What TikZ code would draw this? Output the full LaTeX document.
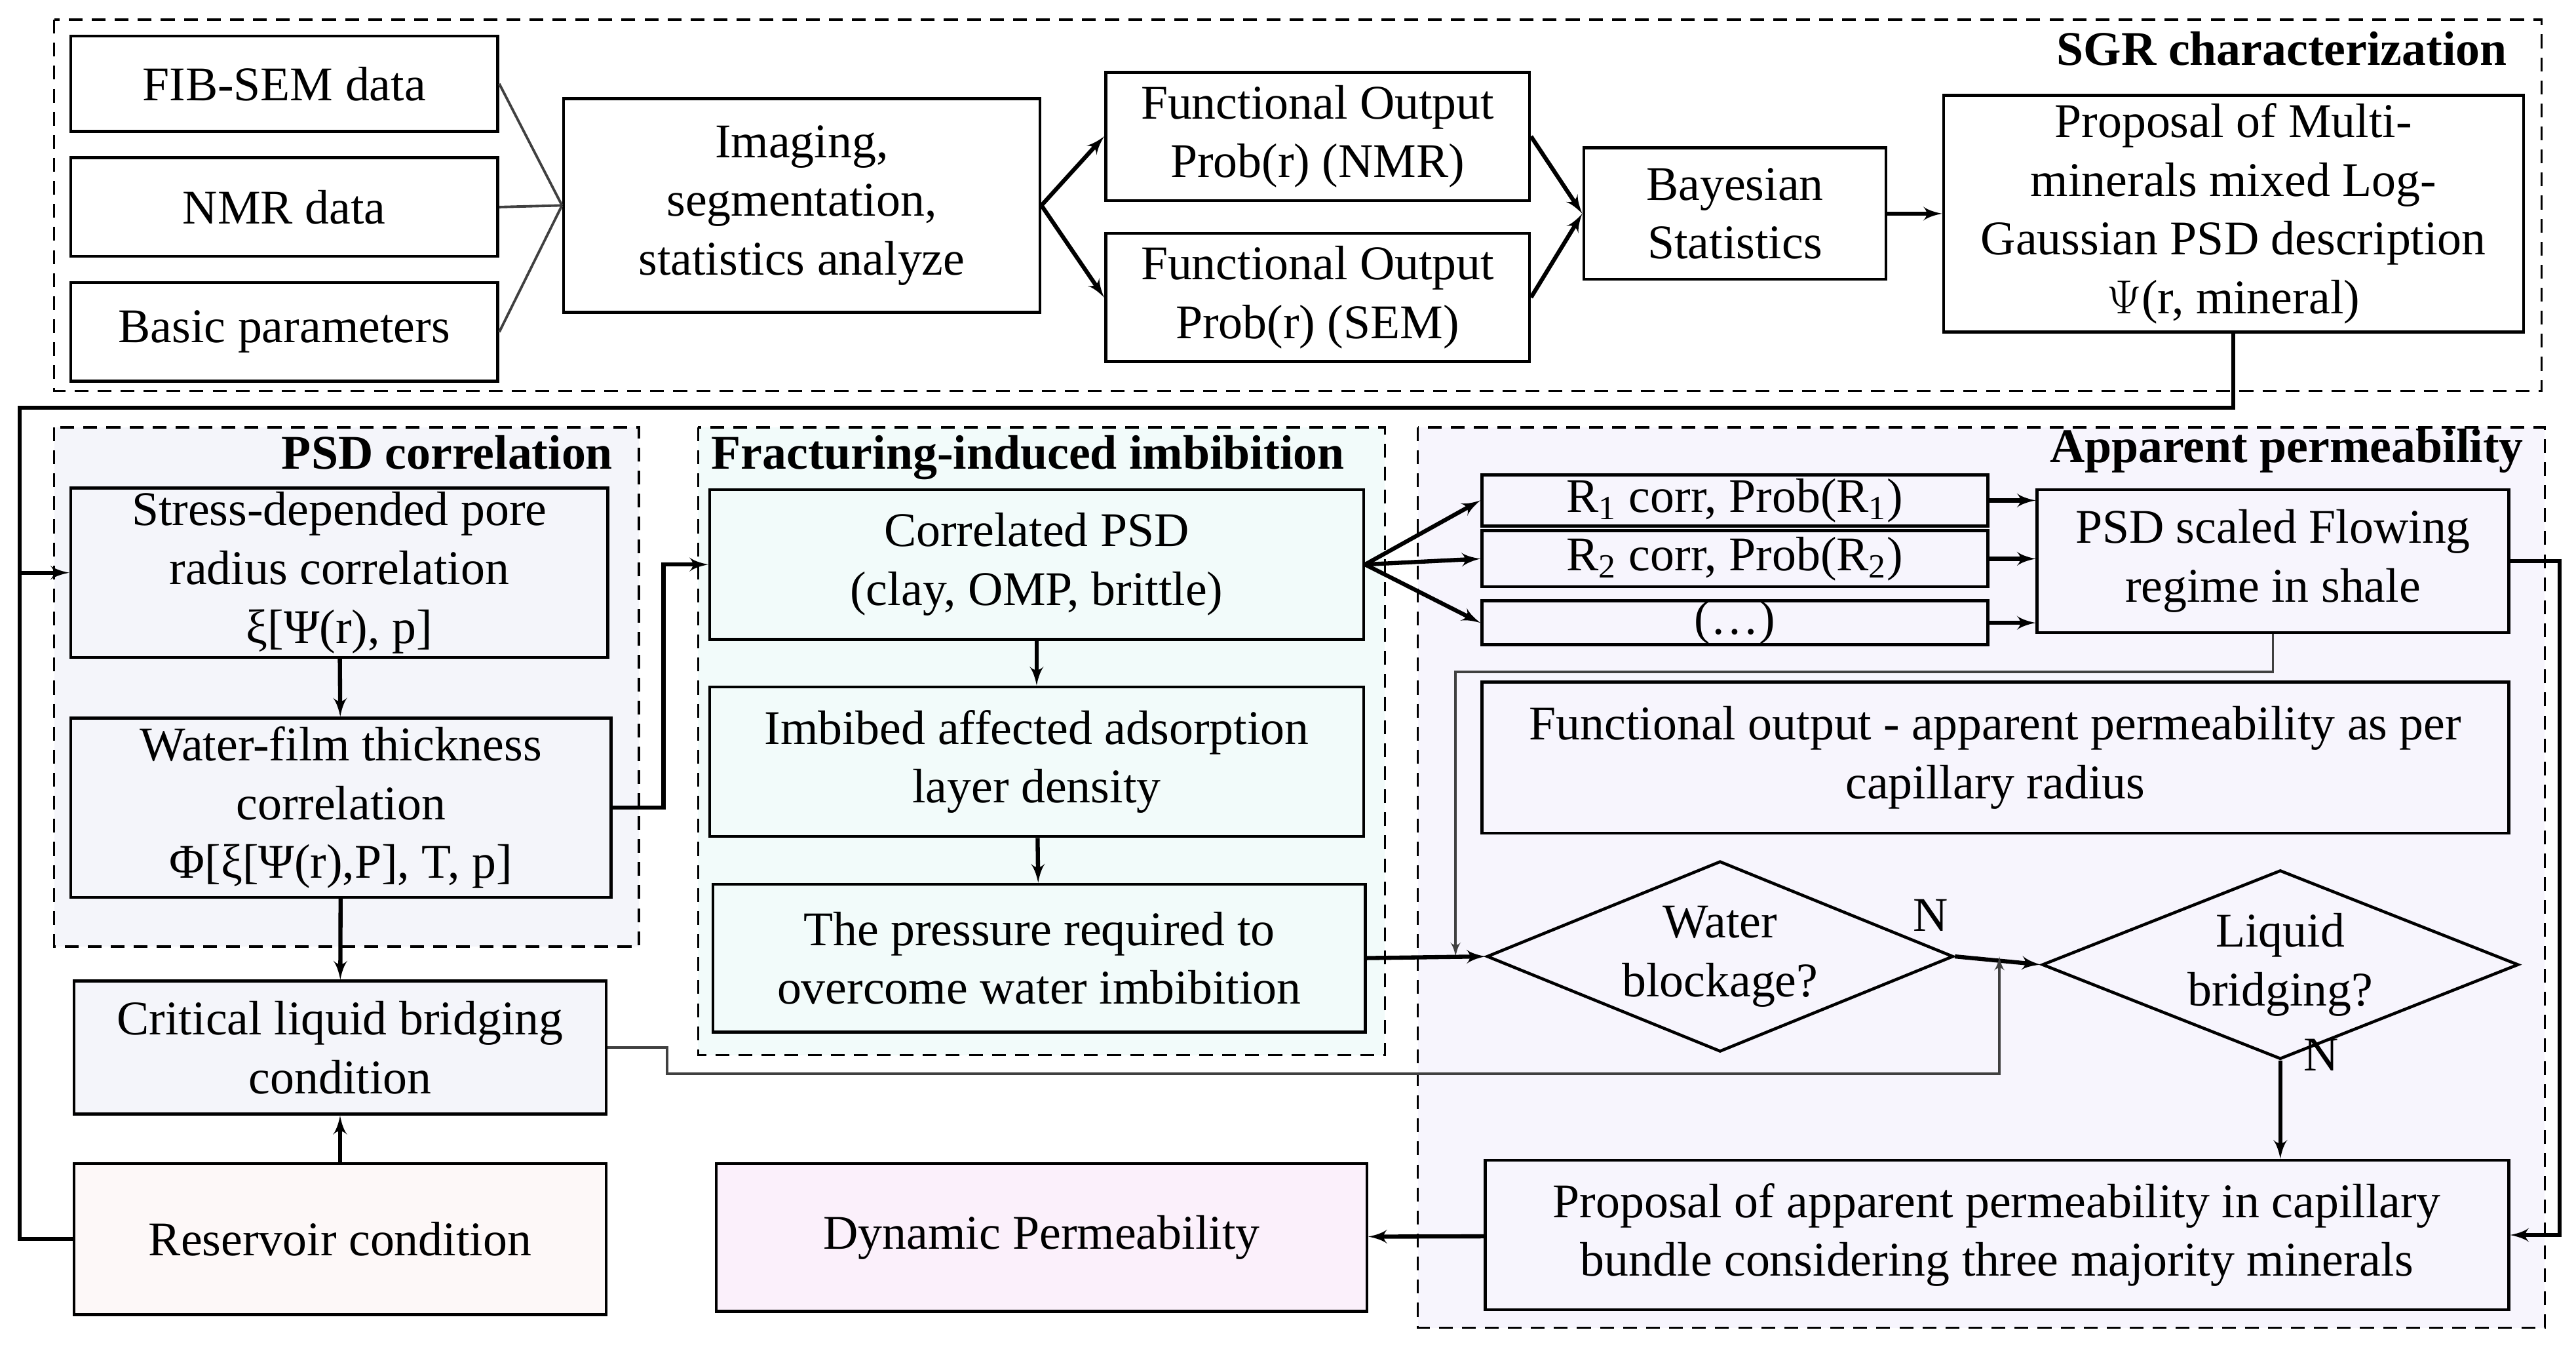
\documentclass[tikz,border=0pt]{standalone}
\usepackage{fontspec}
\setmainfont{Liberation Serif}
\usetikzlibrary{shapes,arrows}
\usetikzlibrary{positioning}
\def\pxu{0.02507cm}
\tikzset{auto,>=latex', x=\pxu, y=-\pxu, font=\fontsize{21}{25.5}\selectfont}
\tikzset{sz/.style 2 args={minimum width=#1*\pxu, minimum height=#2*\pxu}}
\tikzstyle{block} = [draw, line width=1.3pt, rectangle, inner sep=0pt, text centered, align=center]
\tikzstyle{decision} = [draw, line width=1.3pt, diamond, aspect=2.45, inner sep=0pt, align=center]
\tikzstyle{group} = [draw, line width=1pt, dash pattern=on 6pt off 4pt]
\tikzstyle{title} = [font=\fontsize{21}{25.5}\selectfont\bfseries, inner sep=2pt]
\tikzstyle{line} = [line width=1.8pt]
\tikzstyle{thin} = [line width=1.1pt, draw=black!75]
\definecolor{psdfill}{HTML}{F4F5FA}
\definecolor{fracfill}{HTML}{F2FBFA}
\definecolor{appfill}{HTML}{F7F5FD}
\definecolor{resfill}{HTML}{FDF8F8}
\definecolor{dynfill}{HTML}{FBF0FB}

\begin{document}
\begin{tikzpicture}
    \useasboundingbox (0,0) rectangle (1568,821.7);
    % groups
    \draw [group] (33,12) rectangle (1547,238);
    \draw [group, fill=psdfill] (33,260) rectangle (389,576);
    \draw [group, fill=fracfill] (425,260) rectangle (843,642);
    \draw [group, fill=appfill] (863,260) rectangle (1549,808);
    \node [title, anchor=north east] (t_sgr) at (1529,16) {SGR characterization};
    \node [title, anchor=north east] (t_psd) at (376,262) {PSD correlation};
    \node [title, anchor=north west] (t_frac) at (430,262) {Fracturing-induced imbibition};
    \node [title, anchor=north east] (t_app) at (1539,258) {Apparent permeability};

    % SGR characterization
    \node [block, sz={260}{58}] (fib) at (173,51) {FIB-SEM data};
    \node [block, sz={260}{60}] (nmr) at (173,126) {NMR data};
    \node [block, sz={260}{60}] (basic) at (173,202) {Basic parameters};
    \node [block, sz={290}{130}] (img) at (488,125) {Imaging,\\segmentation,\\statistics analyze};
    \node [block, sz={258}{78}] (fo_nmr) at (802,83) {Functional Output\\Prob(r) (NMR)};
    \node [block, sz={258}{78}] (fo_sem) at (802,181) {Functional Output\\Prob(r) (SEM)};
    \node [block, sz={184}{80}] (bayes) at (1056,130) {Bayesian\\Statistics};
    \node [block, sz={353}{144}] (prop) at (1359.5,130) {Proposal of Multi-\\minerals mixed Log-\\Gaussian PSD description\\$\Psi$(r, mineral)};

    % PSD correlation
    \node [block, fill=psdfill, sz={327}{103}] (stress) at (206.5,348.5) {Stress-depended pore\\radius correlation\\ξ[Ψ(r), p]};
    \node [block, fill=psdfill, sz={329}{109}] (wfilm) at (207.5,491.5) {Water-film thickness\\correlation\\Φ[ξ[Ψ(r),P], T, p]};
    \node [block, fill=psdfill, sz={324}{81}] (crit) at (207,637.5) {Critical liquid bridging\\condition};
    \node [block, fill=resfill, sz={324}{92}] (res) at (207,754) {Reservoir condition};

    % Fracturing-induced imbibition
    \node [block, fill=fracfill, sz={398}{91}] (corr) at (631,343.5) {Correlated PSD\\(clay, OMP, brittle)};
    \node [block, fill=fracfill, sz={398}{91}] (imb) at (631,463.5) {Imbibed affected adsorption\\layer density};
    \node [block, fill=fracfill, sz={397}{90}] (press) at (632.5,583) {The pressure required to\\overcome water imbibition};
    \node [block, fill=dynfill, sz={396}{90}] (dyn) at (634,753) {Dynamic Permeability};

    % Apparent permeability
    \node [block, sz={308}{31}] (r1) at (1056,304.5) {R\textsubscript{1} corr, Prob(R\textsubscript{1})};
    \node [block, sz={308}{34}] (r2) at (1056,340) {R\textsubscript{2} corr, Prob(R\textsubscript{2})};
    \node [block, sz={308}{26}] (rn) at (1056,379) {(…)};
    \node [block, sz={287}{87}] (psds) at (1383.5,341.5) {PSD scaled Flowing\\regime in shale};
    \node [block, sz={625}{92}] (fout) at (1214.5,461) {Functional output - apparent permeability as per\\capillary radius};
    \node [decision, sz={284}{116}] (wblock) at (1047,582) {Water\\blockage?};
    \node [decision, sz={290}{115}] (lbridge) at (1388,587) {Liquid\\bridging?};
    \node [block, sz={623}{91}] (prop2) at (1215.5,751.5) {Proposal of apparent permeability in capillary\\bundle considering three majority minerals};
    \node (n1) at (1175,557) {N};
    \node (n2) at (1413,642) {N};

    \coordinate (loop_top) at (12,248);
    \coordinate (wb_in) at (886,582);
    \coordinate (lb_in) at (1217,582);

    \draw [thin] (fib.east) -- (img.west);
    \draw [thin] (nmr.east) -- (img.west);
    \draw [thin] (basic.east) -- (img.west);
    \draw [line,->] (img.east) -- (fo_nmr.west);
    \draw [line,->] (img.east) -- (fo_sem.west);
    \draw [line,->] (fo_nmr.east) -- (bayes.west);
    \draw [line,->] (fo_sem.east) -- (bayes.west);
    \draw [line,->] (bayes) -- (prop);
    \draw [line] (prop.south) |- (loop_top) |- (res.west);
    \draw [line,->] (loop_top) |- (stress.west);
    \draw [line,->] (stress) -- (wfilm);
    \draw [line,->] (wfilm) -- (crit);
    \draw [line,->] (res) -- (crit);
    \draw [line,->] (wfilm.east) -- ++(31,0) |- (corr.west);
    \draw [line,->] (corr) -- (imb);
    \draw [line,->] (imb) -- (press);
    \draw [line,->] (corr.east) -- (r1.west);
    \draw [line,->] (corr.east) -- (r2.west);
    \draw [line,->] (corr.east) -- (rn.west);
    \draw [line,->] (r1.east) -- (r1.east -| psds.west);
    \draw [line,->] (r2.east) -- (r2.east -| psds.west);
    \draw [line,->] (rn.east) -- (rn.east -| psds.west);
    \draw [thin,->] (psds.south) -- ++(0,23) -| (wb_in);
    \draw [line,->] (press.east) -- (wblock.west);
    \draw [line,->] (wblock.east) -- (lbridge.west);
    \draw [thin,->] (crit.east) -- ++(36,0) -- ++(0,16) -| (lb_in);
    \draw [line,->] (lbridge.south) -- (prop2.north -| lbridge.south);
    \draw [line,->] (psds.east) -- ++(30,0) |- (prop2.east);
    \draw [line,->] (prop2) -- (dyn);
\end{tikzpicture}
\end{document}
